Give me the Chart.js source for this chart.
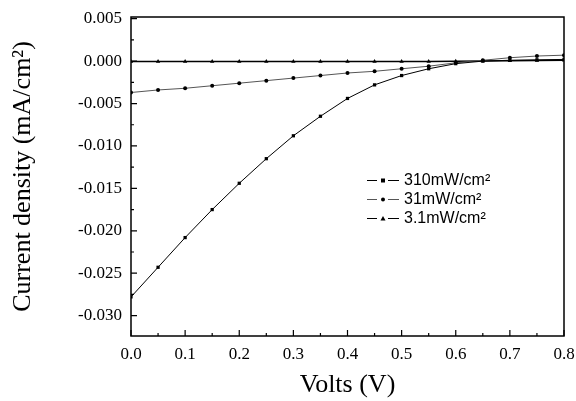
<!DOCTYPE html>
<html>
<head>
<meta charset="utf-8">
<script src="https://cdn.jsdelivr.net/npm/chart.js@4.4.1/dist/chart.umd.min.js"></script>
<style>
  html, body { margin: 0; padding: 0; background: #fff; }
  #wrap { width: 576px; height: 401px; }
</style>
</head>
<body>
<div id="wrap"><canvas id="ivChart"></canvas></div>
<script>
// data
const volts = [0, 0.05, 0.1, 0.15, 0.2, 0.25, 0.3, 0.35, 0.4, 0.45, 0.5, 0.55, 0.6, 0.65, 0.7, 0.75, 0.8];
const j310 = [-0.0278, -0.0243, -0.0208, -0.0175, -0.0144, -0.0115, -0.0088, -0.0065, -0.0044, -0.0028, -0.0017, -0.0009, -0.0003, 0.0000, 0.0001, 0.00015, 0.0002];
const j31 = [-0.0037, -0.0034, -0.0032, -0.0029, -0.0026, -0.0023, -0.0020, -0.0017, -0.0014, -0.0012, -0.0009, -0.0006, -0.0002, 0.0001, 0.0004, 0.0006, 0.0007];
const j3 = [-0.00005, -0.00005, -0.00005, -0.00005, -0.00005, -0.00005, -0.00005, -0.00005, -0.00005, -0.00005, -0.00005, -0.00004, -0.00003, 0.0000, 0.00003, 0.00006, 0.0001];
const seriesLabels = ['310mW/cm\u00b2', '31mW/cm\u00b2', '3.1mW/cm\u00b2'];
const xTicks = [0, 0.1, 0.2, 0.3, 0.4, 0.5, 0.6, 0.7, 0.8];
const yTicks = [-0.030, -0.025, -0.020, -0.015, -0.010, -0.005, 0.000, 0.005];

const toPoints = ys => volts.map((v, i) => ({ x: v, y: ys[i] }));

// inward ticks, frame and the line-marker-line legend
const framePlugin = {
  id: 'frame',
  afterDraw(chart) {
    const { ctx, chartArea: a, scales } = chart;
    ctx.save();
    ctx.strokeStyle = '#000';
    ctx.lineWidth = 1.5;
    ctx.strokeRect(a.left, a.top, a.right - a.left, a.bottom - a.top);

    ctx.lineWidth = 1.2;
    ctx.beginPath();
    for (let i = 0; i < xTicks.length; i++) {
      const px = scales.x.getPixelForValue(xTicks[i]);
      ctx.moveTo(px, a.bottom); ctx.lineTo(px, a.bottom - 6);
      if (i < xTicks.length - 1) {
        const mx = scales.x.getPixelForValue((xTicks[i] + xTicks[i + 1]) / 2);
        ctx.moveTo(mx, a.bottom); ctx.lineTo(mx, a.bottom - 3);
      }
    }
    for (let i = 0; i < yTicks.length; i++) {
      const py = scales.y.getPixelForValue(yTicks[i]);
      ctx.moveTo(a.left, py); ctx.lineTo(a.left + 6, py);
      if (i < yTicks.length - 1) {
        const my = scales.y.getPixelForValue((yTicks[i] + yTicks[i + 1]) / 2);
        ctx.moveTo(a.left, my); ctx.lineTo(a.left + 3, my);
      }
    }
    ctx.stroke();

    // legend
    const lx = 367, ly = 180, gap = 19;
    chart.data.datasets.forEach((ds, i) => {
      const y = ly + i * gap;
      ctx.strokeStyle = ds.borderColor;
      ctx.lineWidth = 1;
      ctx.beginPath();
      ctx.moveTo(lx, y + 0.5); ctx.lineTo(lx + 10, y + 0.5);
      ctx.moveTo(lx + 21, y + 0.5); ctx.lineTo(lx + 32, y + 0.5);
      ctx.stroke();
      ctx.fillStyle = '#000';
      const cx = lx + 16;
      ctx.beginPath();
      if (ds.pointStyle === 'rect') ctx.rect(cx - 2, y - 1.5, 4, 4);
      else if (ds.pointStyle === 'circle') ctx.arc(cx, y + 0.5, 2, 0, Math.PI * 2);
      else { ctx.moveTo(cx, y - 2); ctx.lineTo(cx + 2.5, y + 2.5); ctx.lineTo(cx - 2.5, y + 2.5); ctx.closePath(); }
      ctx.fill();
      ctx.font = '16px "Liberation Sans", Arial, sans-serif';
      ctx.textBaseline = 'middle';
      ctx.fillText(ds.label, lx + 37, y + 1);
    });
    ctx.restore();
  }
};

new Chart(document.getElementById('ivChart'), {
  type: 'line',
  data: {
    datasets: [
      { label: seriesLabels[0], data: toPoints(j310), borderColor: '#000', borderWidth: 1,
        pointStyle: 'rect', pointRadius: 2.3, pointBackgroundColor: '#000', pointBorderWidth: 0 },
      { label: seriesLabels[1], data: toPoints(j31), borderColor: '#555', borderWidth: 1,
        pointStyle: 'circle', pointRadius: 2, pointBackgroundColor: '#000', pointBorderWidth: 0 },
      { label: seriesLabels[2], data: toPoints(j3), borderColor: '#000', borderWidth: 1.5,
        pointStyle: 'triangle', pointRadius: 2.5, pointBackgroundColor: '#000', pointBorderWidth: 0 }
    ]
  },
  options: {
    responsive: true,
    maintainAspectRatio: false,
    animation: false,
    layout: { padding: { top: 17, right: 12, left: 0, bottom: 0 } },
    plugins: { legend: { display: false }, tooltip: { enabled: false } },
    scales: {
      x: {
        type: 'linear', min: 0, max: 0.8,
        afterBuildTicks: s => { s.ticks = xTicks.map(v => ({ value: v })); },
        afterFit: s => { s.height = 65; s.paddingLeft = 0; s.paddingRight = 0; },
        grid: { display: false, drawTicks: false },
        border: { display: false },
        ticks: { color: '#000', padding: 8, maxRotation: 0,
          font: { family: '"Liberation Serif", "Times New Roman", serif', size: 17 },
          callback: v => v.toFixed(1) },
        title: { display: true, text: 'Volts (V)', color: '#000', padding: { top: 0, bottom: 0 },
          font: { family: '"Liberation Serif", "Times New Roman", serif', size: 26 } }
      },
      y: {
        type: 'linear', min: -0.0324, max: 0.0052,
        afterBuildTicks: s => { s.ticks = yTicks.map(v => ({ value: v })); },
        afterFit: s => { s.width = 131; s.paddingTop = 0; s.paddingBottom = 0; },
        grid: { display: false, drawTicks: false },
        border: { display: false },
        ticks: { color: '#000', padding: 9,
          font: { family: '"Liberation Serif", "Times New Roman", serif', size: 17 },
          callback: v => (Math.abs(v) < 1e-9 ? 0 : v).toFixed(3) },
        title: { display: true, text: 'Current density (mA/cm\u00b2)', color: '#000', padding: { top: 8, bottom: 0 },
          font: { family: '"Liberation Serif", "Times New Roman", serif', size: 26 } }
      }
    }
  },
  plugins: [framePlugin]
});
</script>
</body>
</html>
